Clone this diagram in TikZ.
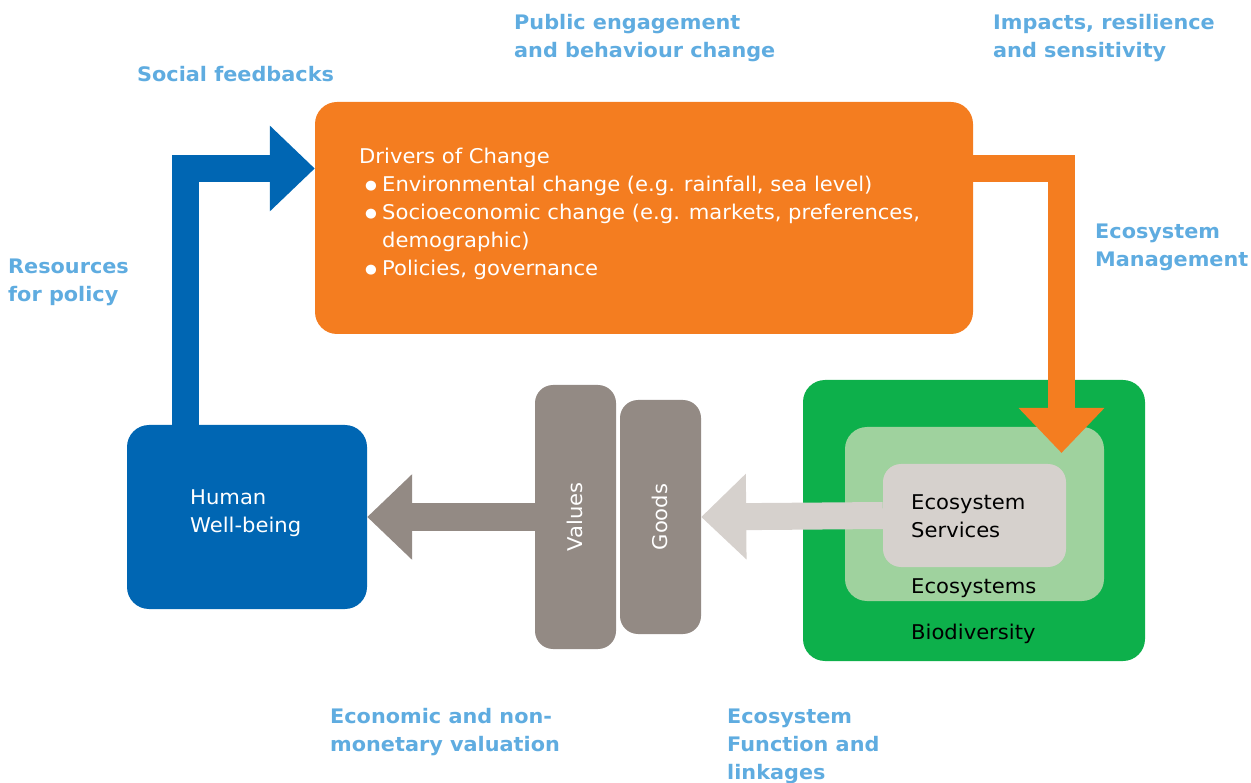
\documentclass[tikz,border=0pt]{standalone}
\usepackage{fontspec}
\usepackage{graphicx}
\setmainfont{DejaVu Sans}[FakeStretch=1.04]
\usetikzlibrary{arrows.meta}
\definecolor{cOrange}{HTML}{F47D20}
\definecolor{cBlue}{HTML}{0066B3}
\definecolor{cGreen}{HTML}{0DB04B}
\definecolor{cLGreen}{HTML}{9FD29E}
\definecolor{cSvc}{HTML}{D6D1CD}
\definecolor{cGray}{HTML}{938A84}
\definecolor{cLabel}{HTML}{5FACE0}
\newcommand{\mybul}{\makebox[23pt][l]{\hspace{6pt}\raisebox{2pt}{\fontsize{13}{13}\selectfont ●}}}
\tikzset{
  box/.style={rectangle, rounded corners=22pt, inner sep=0pt, draw=none},
  bigarrow/.style={line width=27pt, line join=miter, line cap=butt, -{Triangle[length=45pt,width=83pt]}},
  lbl/.style={font=\fontsize{20}{28}\selectfont\bfseries, text=cLabel, align=left, anchor=west, inner sep=0pt},
  txt/.style={font=\fontsize{20.3}{28}\selectfont, align=left, anchor=west, inner sep=0pt},
}
\begin{document}
\begin{tikzpicture}[x=1pt,y=-1pt]
\useasboundingbox (0,0) rectangle (1251,783);
% boxes
\node[box, fill=cOrange, minimum width=658pt, minimum height=232pt] (drivers) at (644,218) {};
\node[box, fill=cBlue, minimum width=240pt, minimum height=184pt] (hw) at (247,517) {};
\node[box, fill=cGreen, minimum width=342pt, minimum height=281pt] (bio) at (974,520.5) {};
\node[box, fill=cLGreen, minimum width=259pt, minimum height=174pt] (eco) at (974.5,514) {};
\node[box, fill=cGray, rounded corners=18pt, minimum width=81pt, minimum height=264pt] (values) at (575.5,517) {};
\node[box, fill=cGray, rounded corners=18pt, minimum width=81pt, minimum height=234pt] (goods) at (660.5,517) {};
% coordinates
\coordinate (bx) at (185.5,0);
\coordinate (by) at (0,168.5);
\coordinate (mgmt) at (1061.5,453);
% arrows
\draw[bigarrow, draw=cBlue] (hw.north -| bx) |- (drivers.west |- by);
\draw[bigarrow, draw=cGray] (values.west) -- (hw.east);
\node[box, fill=cSvc, rounded corners=18pt, minimum width=183pt, minimum height=103pt] (svc) at (974.5,515.5) {};
\draw[bigarrow, draw=cSvc] (svc.west) -- (goods.east);
\draw[bigarrow, draw=cOrange] (drivers.east |- by) -| (mgmt);
% texts in boxes
\node[txt, text=white] (dtext) at (359,213.5) {Drivers of Change\\
\mybul Environmental change (e.g. rainfall, sea level)\\
\mybul Socioeconomic change (e.g. markets, preferences,\\
\hspace{23pt}demographic)\\
\mybul Policies, governance};
\node[txt, text=white] (hwtext) at (190,513) {Human\\Well-being};
\node[txt, text=black] (svctext) at (911,516) {Ecosystem\\Services};
\node[txt, text=black] (ecotext) at (911,588) {Ecosystems};
\node[txt, text=black] (biotext) at (911,634) {Biodiversity};
\node[txt, text=white, anchor=center, rotate=90] (vtext) at (575,517) {Values};
\node[txt, text=white, anchor=center, rotate=90] (gtext) at (660,517) {Goods};
% labels
\node[lbl] (l1) at (137,74) {Social feedbacks};
\node[lbl] (l2) at (514,38) {Public engagement\\and behaviour change};
\node[lbl] (l3) at (993,38) {Impacts, resilience\\and sensitivity};
\node[lbl] (l4) at (8,282) {Resources\\for policy};
\node[lbl] (l5) at (1095,247) {Ecosystem\\Management};
\node[lbl] (l6) at (330,732) {Economic and non-\\monetary valuation};
\node[lbl] (l7) at (727,746) {Ecosystem\\Function and\\linkages};
\end{tikzpicture}
\end{document}
